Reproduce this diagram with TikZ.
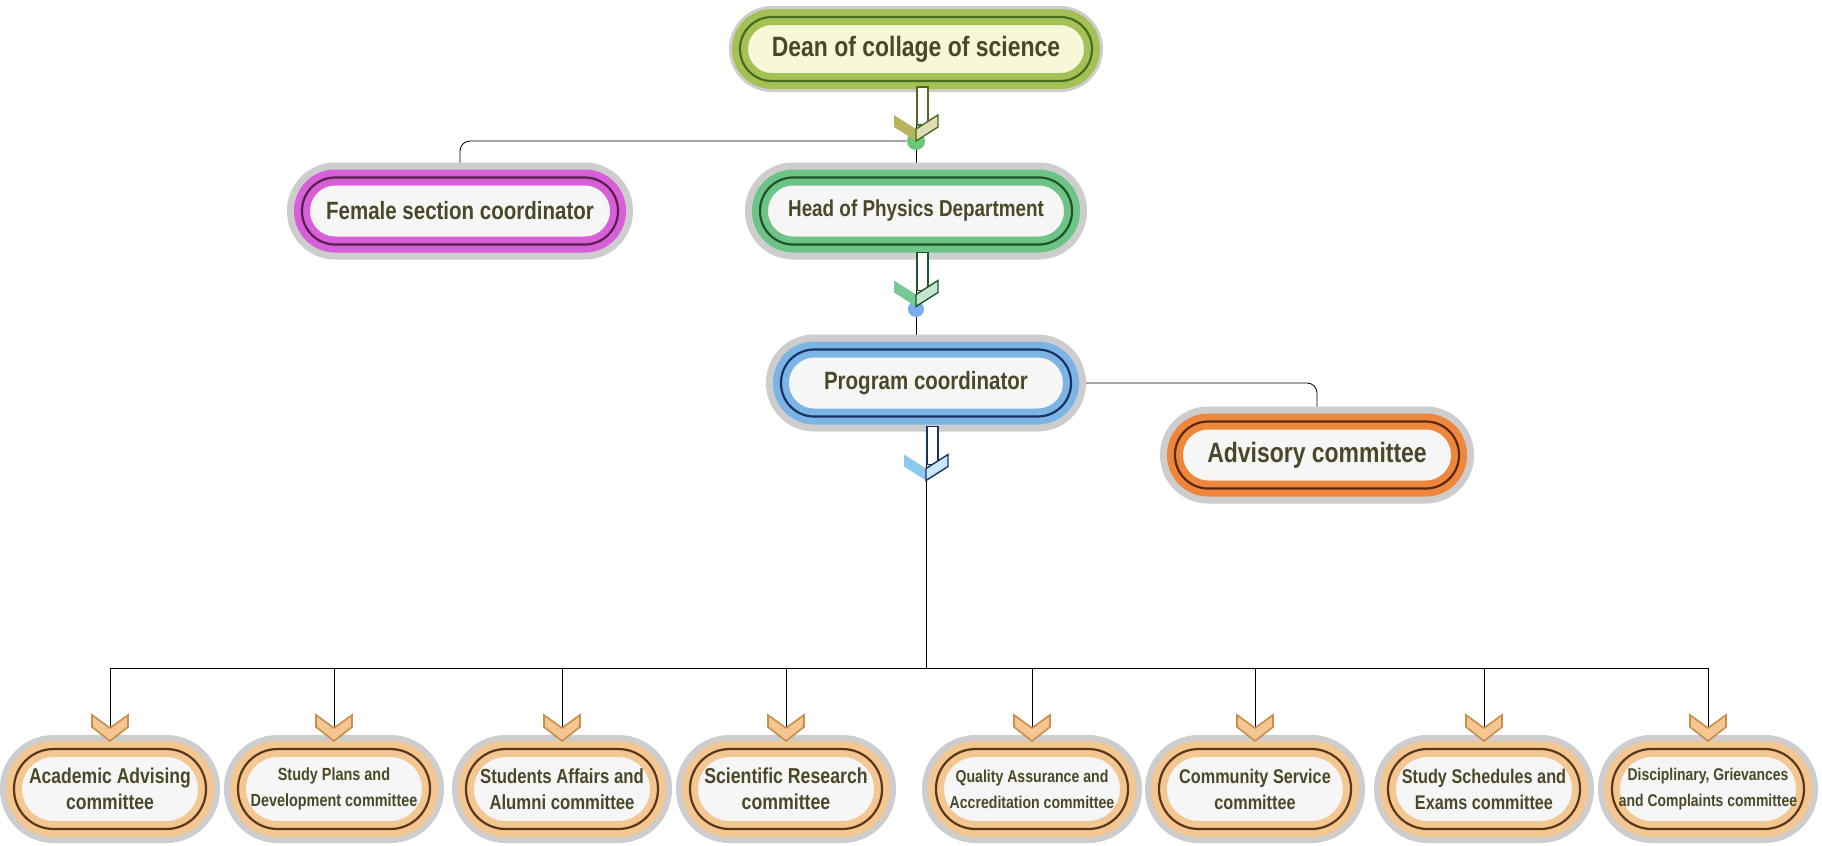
\documentclass[tikz,border=0pt]{standalone}
\usepackage{fontspec}
\setmainfont{Liberation Sans}[FakeStretch=0.82]
\usetikzlibrary{backgrounds}

\definecolor{txt}{RGB}{75,72,40}
\definecolor{shade}{RGB}{205,205,205}
\definecolor{boxfill}{RGB}{246,246,246}
\definecolor{wirecol}{RGB}{55,55,75}
\definecolor{deanband}{RGB}{165,192,85}
\definecolor{deanline}{RGB}{70,110,30}
\definecolor{deanfill}{RGB}{246,248,215}
\definecolor{deanmark}{RGB}{185,178,95}
\definecolor{femband}{RGB}{215,95,215}
\definecolor{femline}{RGB}{90,30,80}
\definecolor{headband}{RGB}{110,195,135}
\definecolor{headline}{RGB}{30,85,45}
\definecolor{headmark}{RGB}{120,200,150}
\definecolor{progband}{RGB}{125,180,230}
\definecolor{progline}{RGB}{25,50,100}
\definecolor{progmark}{RGB}{140,200,240}
\definecolor{advband}{RGB}{238,135,60}
\definecolor{advline}{RGB}{90,40,15}
\definecolor{comband}{RGB}{244,198,145}
\definecolor{comline}{RGB}{90,55,25}
\definecolor{comedge}{RGB}{200,140,75}
\definecolor{dotgreen}{RGB}{105,200,120}
\definecolor{dotblue}{RGB}{120,175,235}

\tikzset{
  pill/.style n args={3}{draw=#1, fill=boxfill, line width=8pt,
    preaction={draw=shade, line width=#3},
    postaction={draw=#2, line width=1.1pt},
    text=txt, inner sep=0pt, align=center},
  top/.style={minimum height=33.5pt, rounded corners=16.6pt},
  low/.style={pill={comband}{comline}{14pt}, minimum width=96pt,
    minimum height=40pt, rounded corners=19.8pt},
  wire/.style={color=wirecol, line width=1.4pt, rounded corners=5pt},
  pics/pointer/.style 2 args={code={
    \filldraw[draw=#2, fill=white, line width=0.7pt] (1,-52) rectangle (12,-14);
    \fill[#1] (-22,-24) -- (0,-10) -- (0,2) -- (-22,-12) -- cycle;
    \filldraw[draw=#2, fill=#1!45, line width=0.7pt] (0,-10) -- (22,-24) -- (22,-12) -- (0,2) -- cycle;
  }},
  pics/notch/.style={code={
    \filldraw[fill=comband, draw=comedge, line width=0.8pt] (-18,-26) -- (0,-13) -- (18,-26) -- (18,-14) -- (0,0) -- (-18,-14) -- cycle;
  }}
}

\begin{document}
\begin{tikzpicture}[x=0.5pt, y=-0.5pt]
\useasboundingbox (0,0) rectangle (1822,846);

\node[pill={deanband}{deanline}{11pt}, fill=deanfill, minimum width=176pt, minimum height=32pt, rounded corners=15.9pt, font=\bfseries\fontsize{14}{16}\selectfont] (dean) at (916,49) {Dean of collage of science};

\node[pill={femband}{femline}{15pt}, top, minimum width=158pt, font=\bfseries\fontsize{12.5}{15}\selectfont] (female) at (460,211) {Female section coordinator};
\node[pill={headband}{headline}{15pt}, top, minimum width=156pt, font=\bfseries\fontsize{11.5}{14}\selectfont] (head) at (916,211) {Head of Physics Department};
\node[pill={progband}{progline}{15pt}, top, minimum width=145pt, font=\bfseries\fontsize{12.5}{15}\selectfont] (prog) at (926,383) {Program coordinator};
\node[pill={advband}{advline}{15pt}, top, minimum width=142pt, font=\bfseries\fontsize{14}{16}\selectfont] (adv) at (1317,455) {Advisory committee};

\node[circle, fill=dotgreen, minimum size=9pt, inner sep=0pt] (dot1) at (916,141) {};
\node[circle, fill=dotblue, minimum size=8pt, inner sep=0pt] (dot2) at (916,309) {};
\coordinate (bus) at (926,668);

\node[low, font=\bfseries\fontsize{10.7}{13}\selectfont] (advising) at (110,789) {Academic Advising\\committee};
\node[low, font=\bfseries\fontsize{8.8}{13}\selectfont] (plans) at (334,789) {Study Plans and\\Development committee};
\node[low, font=\bfseries\fontsize{10.2}{13}\selectfont] (affairs) at (562,789) {Students Affairs and\\Alumni committee};
\node[low, font=\bfseries\fontsize{10.8}{13}\selectfont] (research) at (786,789) {Scientific Research\\committee};
\node[low, font=\bfseries\fontsize{8.6}{13}\selectfont] (quality) at (1032,789) {Quality Assurance and\\Accreditation committee};
\node[low, font=\bfseries\fontsize{9.9}{13}\selectfont] (service) at (1255,789) {Community Service\\committee};
\node[low, font=\bfseries\fontsize{9.9}{13}\selectfont] (exams) at (1484,789) {Study Schedules and\\Exams committee};
\node[low, font=\bfseries\fontsize{8.5}{13}\selectfont] (discipline) at (1708,789) {Disciplinary, Grievances\\and Complaints committee};

\begin{scope}[on background layer, wire]
\draw (dean) -- (dot1);
\draw (dot1) -| (female);
\draw (dot1) -- (head);
\draw (head) -- (dot2);
\draw (dot2) -- (dot2 |- prog.north);
\draw (prog) -| (adv);
\draw (prog) -- (bus);
\draw (bus -| advising) -- (bus -| discipline);
\draw (bus -| advising) -- (advising);
\draw (bus -| plans) -- (plans);
\draw (bus -| affairs) -- (affairs);
\draw (bus -| research) -- (research);
\draw (bus -| quality) -- (quality);
\draw (bus -| service) -- (service);
\draw (bus -| exams) -- (exams);
\draw (bus -| discipline) -- (discipline);
\end{scope}

\pic at ([yshift=-25pt]dean.south) {pointer={deanmark}{deanline}};
\pic at ([yshift=-26pt]head.south) {pointer={headmark}{headline}};
\pic at ([yshift=-27pt]prog.south) {pointer={progmark}{progline}};

\pic at (advising.north) {notch};
\pic at (plans.north) {notch};
\pic at (affairs.north) {notch};
\pic at (research.north) {notch};
\pic at (quality.north) {notch};
\pic at (service.north) {notch};
\pic at (exams.north) {notch};
\pic at (discipline.north) {notch};
\end{tikzpicture}
\end{document}
